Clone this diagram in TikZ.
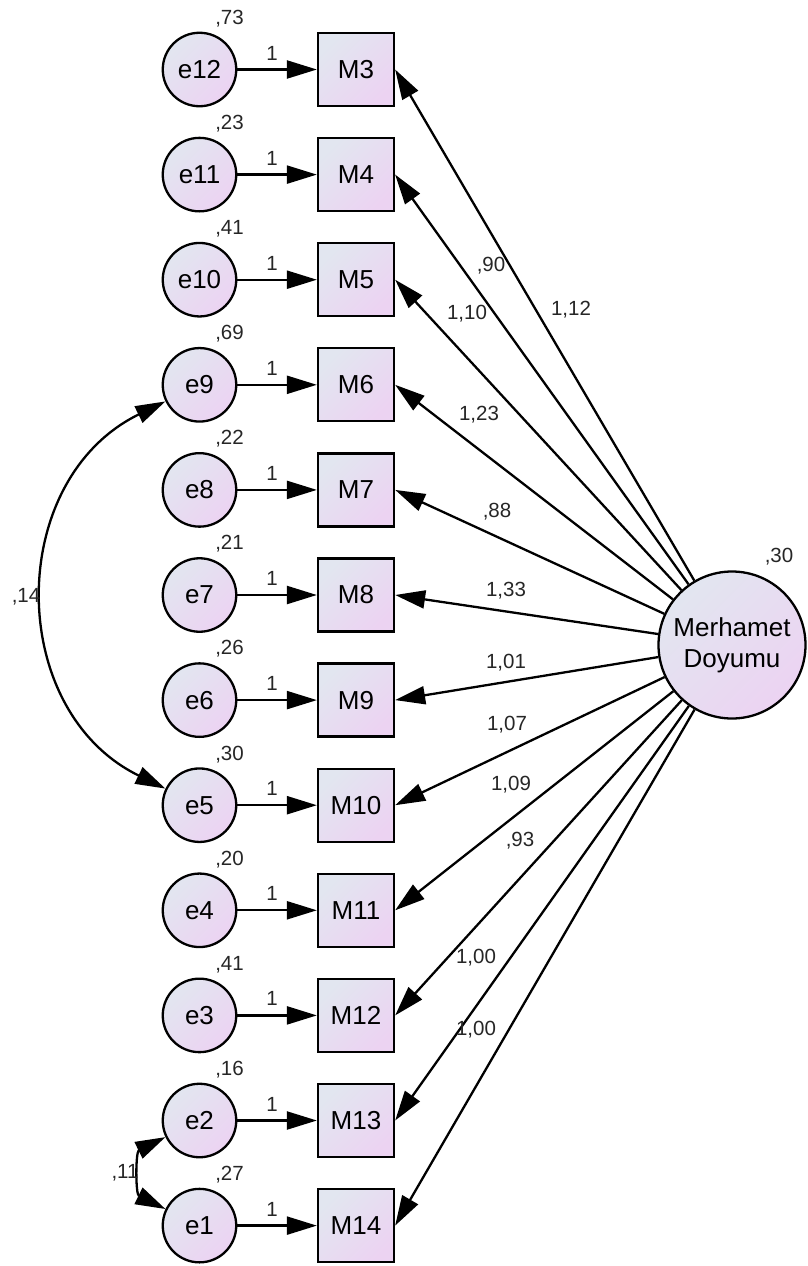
\documentclass[tikz,border=0pt]{standalone}
\usepackage{fontspec}
\setmainfont{Liberation Sans}
\usetikzlibrary{arrows.meta,calc}
\definecolor{shadeA}{RGB}{226,230,240}
\definecolor{shadeB}{RGB}{236,211,242}
\tikzset{
  shadedfill/.style={top color=shadeA,bottom color=shadeB,shading angle=45},
  enode/.style={circle,draw=black,line width=2.3pt,shadedfill,minimum size=73.5pt,inner sep=0pt,font=\fontsize{26}{30}\selectfont},
  mbox/.style={rectangle,draw=black,line width=2.3pt,shadedfill,minimum width=76pt,minimum height=73pt,inner sep=0pt,font=\fontsize{26}{30}\selectfont},
  latent/.style={circle,draw=black,line width=2.3pt,shadedfill,minimum size=147pt,inner sep=0pt,align=center,font=\fontsize{26}{31}\selectfont},
  lbl/.style={inner sep=0pt,text=black!85,font=\fontsize{20.5}{22}\selectfont},
  arr/.style={line width=2.3pt,-{Triangle[length=30pt,width=18pt]}},
  dblarr/.style={line width=2.3pt,{Triangle[length=30pt,width=18pt]}-{Triangle[length=30pt,width=18pt]}}
}
\begin{document}
\begin{tikzpicture}[x=1pt,y=1pt]
\useasboundingbox (0,0) rectangle (808,-1266);
\node[latent] (F) at (732,-645) {Merhamet\\Doyumu};
\node[lbl] (vF) at (779,-557) {,30};
\foreach \m/\e/\v [count=\i from 0] in {3/12/73,4/11/23,5/10/41,6/9/69,7/8/22,8/7/21,9/6/26,10/5/30,11/4/20,12/3/41,13/2/16,14/1/27}{
  \node[enode] (e\e) at (199.5,-69.5-105.1*\i) {e\e};
  \node[mbox] (m\m) at (356,-69.5-105.1*\i) {M\m};
  \draw[arr] (e\e) -- (m\m);
  \node[lbl] (one\e) at (272,-53-105.1*\i) {1};
  \node[lbl] (v\e) at (229.5,-18.5-105.1*\i) {,\v};
  \draw[arr] (F) -- (m\m.east);
}
\node[lbl] (l3) at (571,-310) {1,12};
\node[lbl] (l4) at (491,-266) {,90};
\node[lbl] (l5) at (467,-314) {1,10};
\node[lbl] (l6) at (479,-415) {1,23};
\node[lbl] (l7) at (497,-512) {,88};
\node[lbl] (l8) at (506,-591) {1,33};
\node[lbl] (l9) at (506,-663) {1,01};
\node[lbl] (l10) at (507,-725) {1,07};
\node[lbl] (l11) at (511,-785) {1,09};
\node[lbl] (l12) at (520,-841) {,93};
\node[lbl] (l13) at (476,-958) {1,00};
\node[lbl] (l14) at (476,-1030) {1,00};
\draw[dblarr] (e9.206) to[out=206,in=154,looseness=1.18] (e5.154);
\node[lbl] (c95) at (26,-597) {,14};
\draw[dblarr] (e2.206) to[out=206,in=154,looseness=1.19] (e1.154);
\node[lbl] (c21) at (125,-1173) {,11};
\end{tikzpicture}
\end{document}
